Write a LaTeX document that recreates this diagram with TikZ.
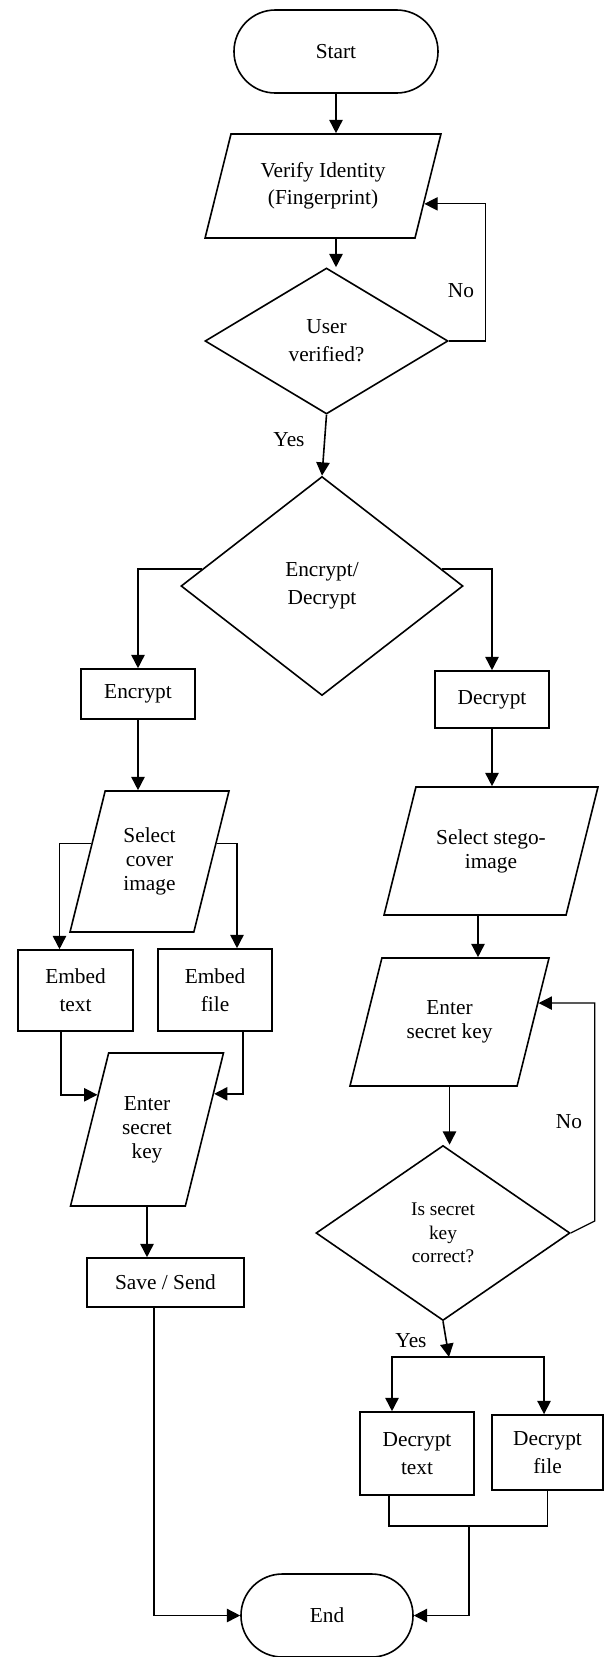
\documentclass[tikz,border=0pt]{standalone}
\usepackage{fontspec}
\setmainfont{Liberation Serif}
\usetikzlibrary{calc,shapes.geometric,arrows.meta}

% text block of fixed size for the slanted input boxes
\newcommand{\iotext}[3]{\parbox[c][#1][c]{#2}{\centering #3}}

\begin{document}
\begin{tikzpicture}[x=0.75pt,y=-0.75pt]

% ---- Styles ----
\tikzset{
  base/.style={draw, line width=1.2pt, align=center, inner sep=2pt,
               font=\fontsize{16}{21}\selectfont},
  term/.style={base, rectangle, rounded corners=31pt, minimum height=62.25pt},
  procbox/.style={base, rectangle},
  iobox/.style={base, trapezium, trapezium left angle=76,
                trapezium right angle=104, inner sep=0pt,
                minimum width=0pt, minimum height=0pt,
                font=\fontsize{16}{18}\selectfont},
  decision/.style={base, diamond, inner sep=0pt},
  arr/.style={line width=1.2pt, -{Triangle[length=10pt,width=10pt]}},
  link/.style={line width=1.2pt},
  lbl/.style={font=\fontsize{16}{20}\selectfont},
}

\useasboundingbox (0,0) rectangle (604,1657);

% --- Top: start and identity check ---
\node[term, minimum width=153pt] (start) at (336,51.5) {Start};
\node[iobox, font=\fontsize{16}{20}\selectfont] (verify) at (323,186)
  {\iotext{78pt}{138pt}{Verify Identity\\(Fingerprint)}};
\node[decision, minimum width=182.25pt, minimum height=109.5pt] (user) at (326.5,341)
  {User\\verified?};
\node[decision, minimum width=211.5pt, minimum height=164.25pt] (edec) at (322,586)
  {Encrypt/\\Decrypt};

% --- Encrypt side ---
\node[procbox, minimum width=85.5pt, minimum height=37.5pt] (encrypt) at (138,694) {Encrypt};
\node[iobox] (cover) at (149.5,861.5)
  {\iotext{105.75pt}{66.5pt}{Select\\cover\\image}};
\node[procbox, minimum width=86.25pt, minimum height=60.75pt] (embtext) at (75.5,990.5) {Embed\\text};
\node[procbox, minimum width=85.5pt, minimum height=61.5pt] (embfile) at (215,990) {Embed\\file};
\node[iobox] (keyl) at (147,1129.5)
  {\iotext{114.75pt}{57.5pt}{Enter\\secret\\key}};
\node[procbox, minimum width=117.75pt, minimum height=36.75pt] (save) at (165.5,1282.5) {Save / Send};

% --- Decrypt side ---
\node[procbox, minimum width=85.5pt, minimum height=42.75pt] (decrypt) at (492,699.5) {Decrypt};
\node[iobox] (stego) at (491,851)
  {\iotext{96pt}{112.6pt}{Select stego-\\image}};
\node[iobox] (keyr) at (449.5,1022)
  {\iotext{96pt}{101.4pt}{Enter\\secret key}};
\node[decision, minimum width=190.5pt, minimum height=131.25pt,
      font=\fontsize{14.5}{17.6}\selectfont] (iskey) at (443,1233)
  {Is secret\\key\\correct?};
\node[procbox, minimum width=85.5pt, minimum height=62.25pt] (dtext) at (417,1453.5) {Decrypt\\text};
\node[procbox, minimum width=83.25pt, minimum height=56.25pt] (dfile) at (547.5,1452.5) {Decrypt\\file};

% --- End ---
\node[term, minimum width=129pt] (finish) at (327,1615.5) {End};

% --- Labels and joints ---
\node[lbl] (no1) at (461,291) {No};
\node[lbl] (yes1) at (289,440) {Yes};
\node[lbl] (no2) at (569,1122) {No};
\node[lbl] (yes2) at (411,1341) {Yes};
\coordinate (split) at (449,1357);
\coordinate (merge) at (469,1526);

% --- Connectors ---
\draw[arr] (start.south) -- (start.south |- verify.north);
\draw[arr] (start.south |- verify.south) -- (start.south |- user.north);
\draw[arr, line width=0.9pt] (user.east) -- ++(37,0) |- (verify.-10);
\draw[arr] (user.south) -- (edec.north);
\draw[arr] (edec.172) -| (encrypt.north);
\draw[arr] (edec.8) -| (decrypt.north);

\draw[arr] (encrypt.south) -- (encrypt.south |- cover.north);
\draw[arr] (cover.163) -| ([xshift=-12pt]embtext.north);
\draw[arr] (cover.15) -| ([xshift=16.5pt]embfile.north);
\draw[arr] ([xshift=-11pt]embtext.south) |- (keyl.145);
\draw[arr] ([xshift=21pt]embfile.south) |- (keyl.28);
\draw[arr] (keyl.south) -- (keyl.south |- save.north);
\draw[arr] ([xshift=-8.6pt]save.south) |- (finish.west);

\draw[arr] (decrypt.south) -- (decrypt.south |- stego.north);
\draw[arr] ([xshift=-9.75pt]stego.south) -- ([xshift=-9.75pt]stego.south |- keyr.north);
\draw[arr] (keyr.south) -- (keyr.south |- iskey.north);
\draw[arr, line width=0.9pt] (iskey.east) -- ++(24,-12) |- (keyr.12);
\draw[arr] (iskey.south) -- (split);
\draw[arr] (split) -| ([xshift=-18.75pt]dtext.north);
\draw[arr] (split) -| ([xshift=-2.6pt]dfile.north);
\draw[link] ([xshift=-21pt]dtext.south) |- (merge);
\draw[link] (dfile.south) |- (merge);
\draw[arr] (merge) |- (finish.east);

\end{tikzpicture}
\end{document}
